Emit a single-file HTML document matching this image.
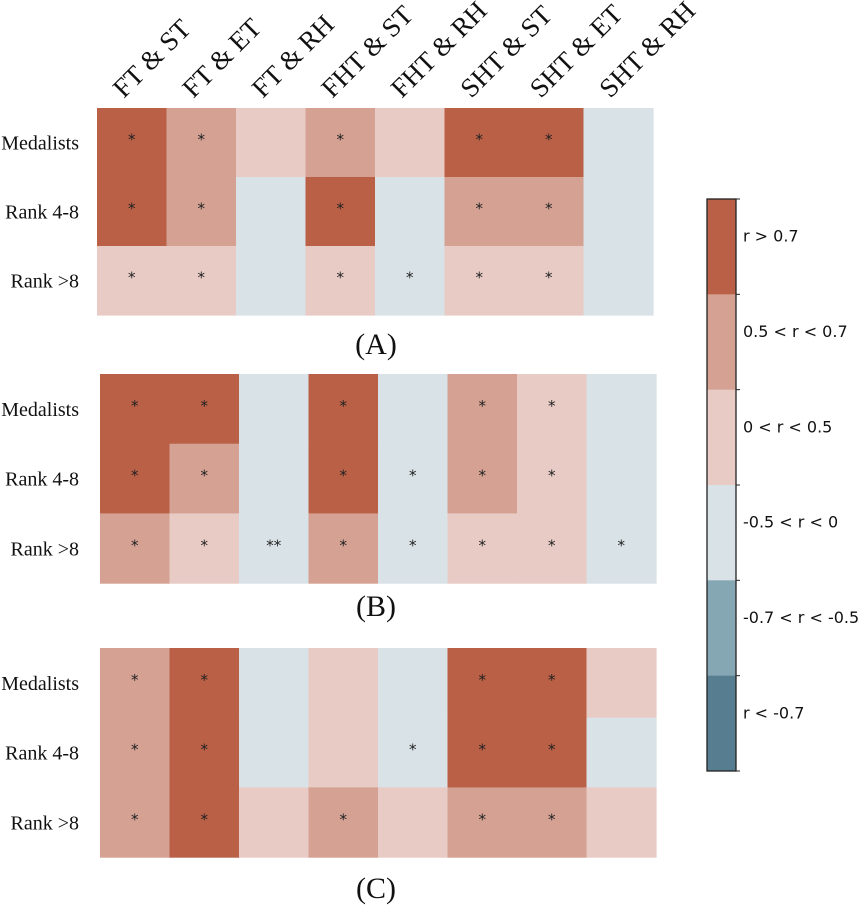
<!DOCTYPE html>
<html><head><meta charset="utf-8"><style>
html,body{margin:0;padding:0;background:#fff;}
svg{display:block;}
</style></head><body>
<svg id="chart" width="861" height="905" xmlns="http://www.w3.org/2000/svg"></svg>
<script>
const columns = ["FT & ST","FT & ET","FT & RH","FHT & ST","FHT & RH","SHT & ST","SHT & ET","SHT & RH"];
const rows = ["Medalists","Rank 4-8","Rank >8"];
// category levels: 5 = r>0.7, 4 = 0.5<r<0.7, 3 = 0<r<0.5, 2 = -0.5<r<0, 1 = -0.7<r<-0.5, 0 = r<-0.7
const levelsA = [[5,4,3,4,3,5,5,2],[5,4,2,5,2,4,4,2],[3,3,2,3,2,3,3,2]];
const starsA  = [["*","*","","*","","*","*",""],["*","*","","*","","*","*",""],["*","*","","*","*","*","*",""]];
const levelsB = [[5,5,2,5,2,4,3,2],[5,4,2,5,2,4,3,2],[4,3,2,4,2,3,3,2]];
const starsB  = [["*","*","","*","","*","*",""],["*","*","","*","*","*","*",""],["*","*","**","*","*","*","*","*"]];
const levelsC = [[4,5,2,3,2,5,5,3],[4,5,2,3,2,5,5,2],[4,5,3,4,3,4,4,3]];
const starsC  = [["*","*","","","","*","*",""],["*","*","","","*","*","*",""],["*","*","","*","","*","*",""]];
const legendLabels = ["r > 0.7","0.5 < r < 0.7","0 < r < 0.5","-0.5 < r < 0","-0.7 < r < -0.5","r < -0.7"];
const colors = ["#577e90","#85a6b3","#d9e2e7","#e8cbc5","#d4a193","#b96046"];

const NS="http://www.w3.org/2000/svg";
const svg=document.getElementById('chart');
function mk(tag,attrs,parent){const e=document.createElementNS(NS,tag);for(const k in attrs)e.setAttribute(k,attrs[k]);(parent||svg).appendChild(e);return e;}

const panels=[
 {levels:levelsA,stars:starsA,x0:97,y0:108,w:69.5,h:69,title:"(A)",ty:343,key:"a"},
 {levels:levelsB,stars:starsB,x0:100,y0:374,w:69.5,h:69.7,title:"(B)",ty:605,key:"b"},
 {levels:levelsC,stars:starsC,x0:100,y0:648,w:69.5,h:69.7,title:"(C)",ty:887,key:"c"}
];

// column labels (top)
columns.forEach((c,i)=>{
  const cx=97+69.5*(i+0.5);
  const t=mk('text',{x:cx-8,y:99,transform:`rotate(-45 ${cx-8} 99)`,'font-family':'"Liberation Serif",serif','font-size':'27',fill:'#111'});
  
  
  t.textContent=c;
});

panels.forEach(p=>{
  const g=mk('g',{});
  
  
  const xs=i=>p.x0+p.w*i, ys=j=>p.y0+p.h*j;
  p.levels.forEach((row,j)=>{
    row.forEach((lv,i)=>{
      const r=mk('rect',{x:xs(i),y:ys(j),width:p.w+0.6,height:p.h+0.6,fill:colors[lv]},g);
      
      
      const s=p.stars[j][i];
      if(s){
        const t=mk('text',{x:xs(i)+p.w/2,y:ys(j)+p.h/2+2,'text-anchor':'middle','font-family':'"DejaVu Sans",sans-serif','font-size':'15',fill:'#222'},g);
        
        
        t.textContent=s;
      }
    });
    const lt=mk('text',{x:79,y:ys(j)+p.h/2+7,'text-anchor':'end','font-family':'"Liberation Serif",serif','font-size':'20',fill:'#111'},g);
    
    
    lt.textContent=rows[j];
  });
  const tt=mk('text',{x:376,y:p.ty+11,'text-anchor':'middle','font-family':'"Liberation Serif",serif','font-size':'30',fill:'#111'});
  
  
  tt.textContent=p.title;
});

// colorbar
const cb=mk('g',{});


const cbx=707,cby=199,cbw=29,cbh=572,seg=cbh/legendLabels.length;
legendLabels.forEach((lab,k)=>{
  const r=mk('rect',{x:cbx,y:cby+seg*k,width:cbw,height:seg+0.5,fill:colors[5-k]},cb);
  
  
  const t=mk('text',{x:743,y:cby+seg*k+seg/2-5,'font-family':'"DejaVu Sans",sans-serif','font-size':'16',fill:'#111'},cb);
  
  
  t.textContent=lab;
  mk('line',{x1:cbx+cbw,x2:cbx+cbw+4,y1:cby+seg*k,y2:cby+seg*k,stroke:'#222','stroke-width':1},cb);
});
mk('line',{x1:cbx+cbw,x2:cbx+cbw+4,y1:cby+cbh,y2:cby+cbh,stroke:'#222','stroke-width':1},cb);
mk('rect',{x:cbx,y:cby,width:cbw,height:cbh,fill:'none',stroke:'#222','stroke-width':1.3},cb);
</script>
</body></html>
